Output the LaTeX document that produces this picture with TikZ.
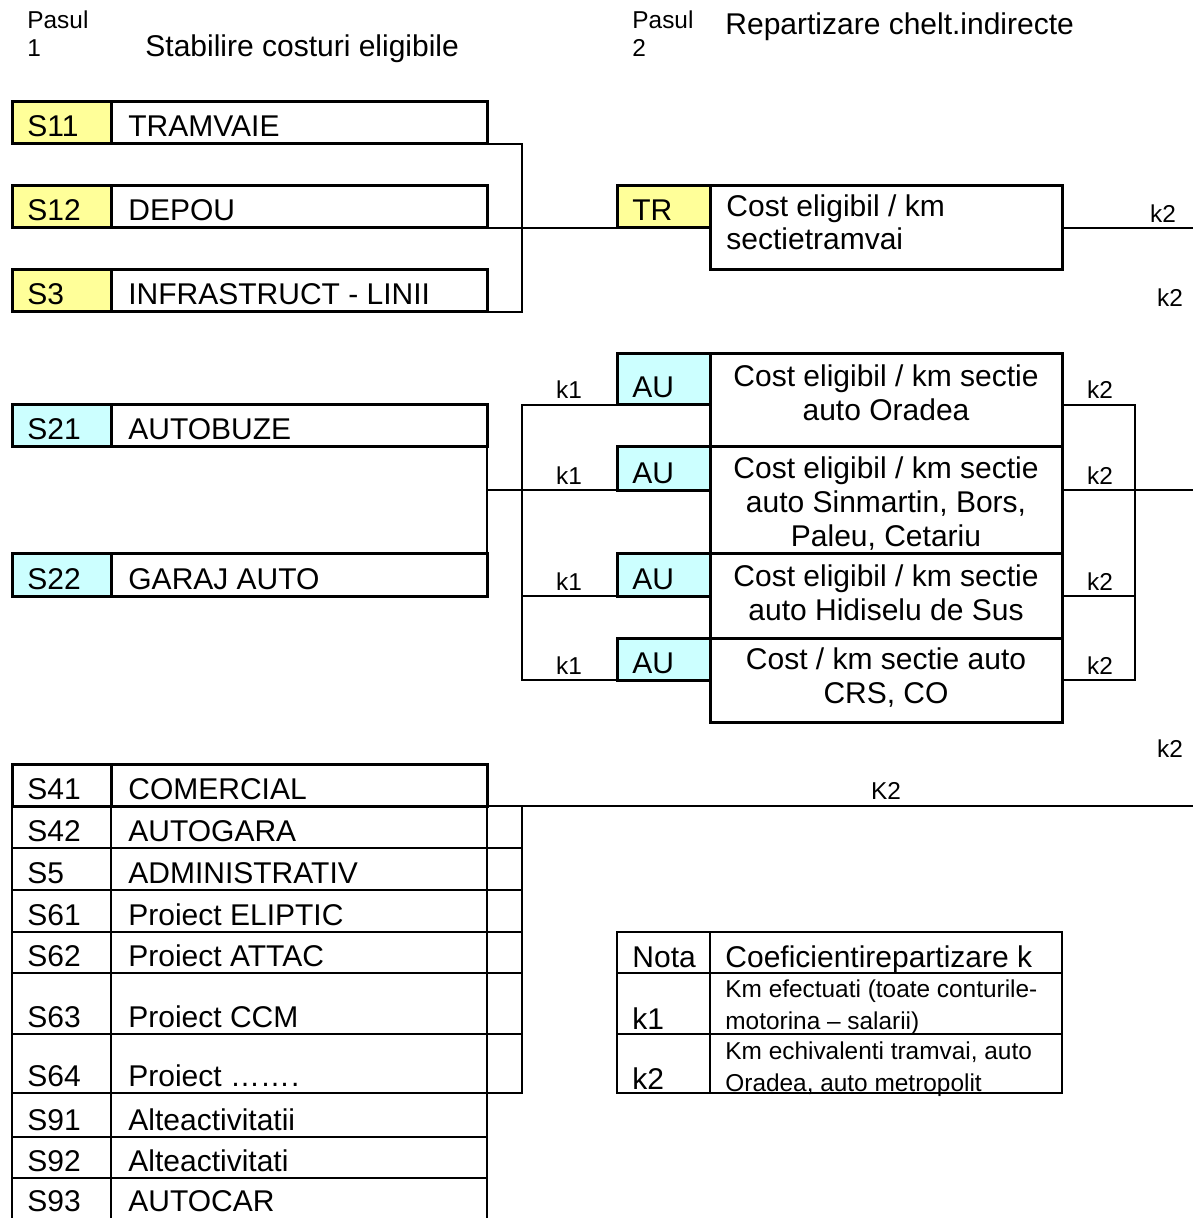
\documentclass[tikz,border=0pt]{standalone}
\usepackage{fontspec}
\setmainfont{Liberation Sans}
\definecolor{yel}{HTML}{FFFF99}
\definecolor{cya}{HTML}{CCFFFF}
\newcommand\fmain{\fontsize{15}{17}\selectfont}
\newcommand\fsm{\fontsize{12.2}{14}\selectfont}
\newcommand\fnote{\fontsize{12.2}{16}\selectfont}
\newcommand\mkbox[6]{%
 \pgfmathsetmacro\bw{(#4-#2)*0.5}%
 \pgfmathsetmacro\bh{(#5-#3)*0.5}%
 \node[#6, minimum width=\bw pt, minimum height=\bh pt, inner sep=0pt, outer sep=0pt] (#1) at ({(#2+#4)/2},{(#3+#5)/2}) {};}
\tikzset{
 bx/.style={draw, line width=1.5pt},
 tbl/.style={draw, line width=1pt},
 xtra/.style={draw, line width=0.6pt},
 nt/.style={draw, line width=0.75pt},
 conn/.style={line width=0.65pt},
 tx/.style={inner sep=0pt, anchor=base west, font=\fmain},
 kl/.style={inner sep=0pt, anchor=base, font=\fsm},
}
\begin{document}
\begin{tikzpicture}[x=0.5pt, y=-0.5pt]
\useasboundingbox (0,0) rectangle (1193,1218);
% headings
\node[inner sep=0pt, anchor=base west, font=\fsm] (p1a) at (27,29) {Pasul};
\node[inner sep=0pt, anchor=base west, font=\fsm] (p1b) at (27,57) {1};
\node[tx] (t1) at (145,57) {Stabilire costuri eligibile};
\node[inner sep=0pt, anchor=base west, font=\fsm] (p2a) at (632,29) {Pasul};
\node[inner sep=0pt, anchor=base west, font=\fsm] (p2b) at (632,57) {2};
\node[tx] (t2) at (725,35) {Repartizare chelt.indirecte};
% step 1 tram group
\mkbox{s11c}{12}{102}{111}{144}{bx, fill=yel}
\mkbox{s11n}{111}{102}{487}{144}{bx}
\mkbox{s12c}{12}{186}{111}{228}{bx, fill=yel}
\mkbox{s12n}{111}{186}{487}{228}{bx}
\mkbox{s3c}{12}{270}{111}{312}{bx, fill=yel}
\mkbox{s3n}{111}{270}{487}{312}{bx}
\node[tx] (s11a) at (27,137) {S11};
\node[tx] (s11b) at (128,137) {TRAMVAIE};
\node[tx] (s12a) at (27,221) {S12};
\node[tx] (s12b) at (128,221) {DEPOU};
\node[tx] (s3a) at (27,305) {S3};
\node[tx] (s3b) at (128,305) {INFRASTRUCT - LINII};
% TR
\mkbox{trc}{617}{186}{710}{228}{bx, fill=yel}
\mkbox{trn}{710}{186}{1062}{270}{bx}
\node[tx] (trt) at (632,221) {TR};
\node[inner sep=0pt, anchor=north west, align=left, font=\fontsize{15}{16.5}\selectfont] (trx) at (726,194) {Cost eligibil / km\\sectietramvai};
\coordinate (e1) at (1193,228);
\draw[conn] (s11n.south east) -- ++(35,0) coordinate (b1) |- (s3n.south east);
\draw[conn] (s12n.south east) -- (trc.south west);
\draw[conn] (trn.east |- trc.south) -- (e1);
\node[kl] (k2a) at (1163,223) {k2};
\node[kl] (k2b) at (1170,307) {k2};
% bus group
\mkbox{s21c}{12}{405}{111}{447}{bx, fill=cya}
\mkbox{s21n}{111}{405}{487}{447}{bx}
\mkbox{s22c}{12}{553}{111}{596}{bx, fill=cya}
\mkbox{s22n}{111}{553}{487}{596}{bx}
\node[tx] (s21a) at (27,440) {S21};
\node[tx] (s21b) at (128,440) {AUTOBUZE};
\node[tx] (s22a) at (27,589) {S22};
\node[tx] (s22b) at (128,589) {GARAJ AUTO};
\mkbox{au1}{617}{354}{710}{405}{bx, fill=cya}
\mkbox{cs1}{710}{354}{1062}{447}{bx}
\mkbox{au2}{617}{447}{710}{490}{bx, fill=cya}
\mkbox{cs2}{710}{447}{1062}{553}{bx}
\mkbox{au3}{617}{553}{710}{596}{bx, fill=cya}
\mkbox{cs3}{710}{553}{1062}{638}{bx}
\mkbox{au4}{617}{638}{710}{680}{bx, fill=cya}
\mkbox{cs4}{710}{638}{1062}{722}{bx}
\node[tx] (au1t) at (632,398) {AU};
\node[tx] (au2t) at (632,483) {AU};
\node[tx] (au3t) at (632,589) {AU};
\node[tx] (au4t) at (632,673) {AU};
\tikzset{ct/.style={inner sep=0pt, anchor=north, align=center, font=\fontsize{15}{17}\selectfont}}
\node[ct] (cs1t) at (886,364) {Cost eligibil / km sectie\\auto Oradea};
\node[ct] (cs2t) at (886,456) {Cost eligibil / km sectie\\auto Sinmartin, Bors,\\Paleu, Cetariu};
\node[ct] (cs3t) at (886,564) {Cost eligibil / km sectie\\auto Hidiselu de Sus};
\node[ct] (cs4t) at (886,647) {Cost / km sectie auto\\CRS, CO};
\coordinate (lvx) at (522,0);
\coordinate (rvx) at (1135,0);
\coordinate (e2) at (1193,490);
\draw[conn] (s21n.south east) -- (s22n.north east);
\draw[conn] (s21n.east |- au2.south) -- (au2.south -| lvx);
\draw[conn] (au1.south west) -- (au1.south west -| lvx) -- (au4.south west -| lvx) -- (au4.south west);
\draw[conn] (au2.south west) -- (au2.south west -| lvx);
\draw[conn] (au3.south west) -- (au3.south west -| lvx);
\draw[conn] (cs1.east |- au1.south) -- (rvx |- au1.south) -- (rvx |- au4.south) -- (cs4.east |- au4.south);
\draw[conn] (cs2.east |- au2.south) -- (rvx |- au2.south);
\draw[conn] (cs3.east |- au3.south) -- (rvx |- au3.south);
\draw[conn] (rvx |- au2.south) -- (e2);
\foreach \yb/\nm in {399/ka1, 484/ka2, 590/ka3, 674/ka4} {\node[kl] (\nm) at (569,\yb) {k1};}
\foreach \yb/\nm in {399/kb1, 484/kb2, 590/kb3, 674/kb4} {\node[kl] (\nm) at (1100,\yb) {k2};}
\node[kl] (k2c) at (1170,757) {k2};
% bottom table
\mkbox{s41c}{12}{764}{111}{806}{bx}
\mkbox{s41n}{111}{764}{487}{806}{bx}
\node[tx] (s41a) at (27,799) {S41};
\node[tx] (s41b) at (128,799) {COMERCIAL};
\coordinate (e3) at (1193,806);
\draw[conn] (s41n.south east) -- (e3);
\node[kl] (K2) at (886,799) {K2};
\foreach \cd/\lab/\tp/\bt/\nm in {S42/AUTOGARA/806/848/s42, S5/ADMINISTRATIV/848/890/s5, S61/Proiect ELIPTIC/890/932/s61, S62/Proiect ATTAC/932/973/s62, S63/Proiect CCM/973/1034/s63}{
 \mkbox{\nm c}{12}{\tp}{111}{\bt}{tbl}
 \mkbox{\nm n}{111}{\tp}{487}{\bt}{tbl}
 \mkbox{\nm x}{487}{\tp}{522}{\bt}{xtra}
 \pgfmathsetmacro\bl{\bt-7}
 \node[tx] (\nm a) at (27,\bl) {\cd};
 \node[tx] (\nm b) at (128,\bl) {\lab};
}
\mkbox{s64c}{12}{1034}{111}{1093}{tbl}
\mkbox{s64n}{111}{1034}{487}{1093}{tbl}
\mkbox{s64x}{487}{1034}{522}{1093}{xtra}
\node[tx] (s64a) at (27,1086) {S64};
\node[tx] (s64b) at (128,1086) {Proiect ……\kern0.5pt.};
\foreach \cd/\lab/\tp/\bt/\nm in {S91/Alteactivitatii/1093/1137/s91, S92/Alteactivitati/1137/1178/s92}{
 \mkbox{\nm c}{12}{\tp}{111}{\bt}{tbl}
 \mkbox{\nm n}{111}{\tp}{487}{\bt}{tbl}
 \pgfmathsetmacro\bl{\bt-7}
 \node[tx] (\nm a) at (27,\bl) {\cd};
 \node[tx] (\nm b) at (128,\bl) {\lab};
}
\mkbox{s93c}{12}{1178}{111}{1240}{tbl}
\mkbox{s93n}{111}{1178}{487}{1240}{tbl}
\node[tx] (s93a) at (27,1211) {S93};
\node[tx] (s93b) at (128,1211) {AUTOCAR};
% nota table
\mkbox{nh1}{617}{932}{710}{973}{nt}
\mkbox{nh2}{710}{932}{1062}{973}{nt}
\mkbox{nr1}{617}{973}{710}{1034}{nt}
\mkbox{nr2}{710}{973}{1062}{1034}{nt}
\mkbox{nq1}{617}{1034}{710}{1093}{nt}
\mkbox{nq2}{710}{1034}{1062}{1093}{nt}
\node[tx] (nht) at (632,967) {Nota};
\node[tx] (nhd) at (725,967) {Coeficientirepartizare k};
\node[tx] (nrt) at (632,1029) {k1};
\node[tx] (nqt) at (632,1089) {k2};
\node[inner sep=0pt, anchor=north west, align=left, font=\fnote] (nrd) at (725,979) {Km efectuati (toate conturile-\\motorina – salarii)};
\node[inner sep=0pt, anchor=north west, align=left, font=\fnote] (nqd) at (725,1041) {Km echivalenti tramvai, auto\\Oradea, auto metropolit};
\end{tikzpicture}
\end{document}
